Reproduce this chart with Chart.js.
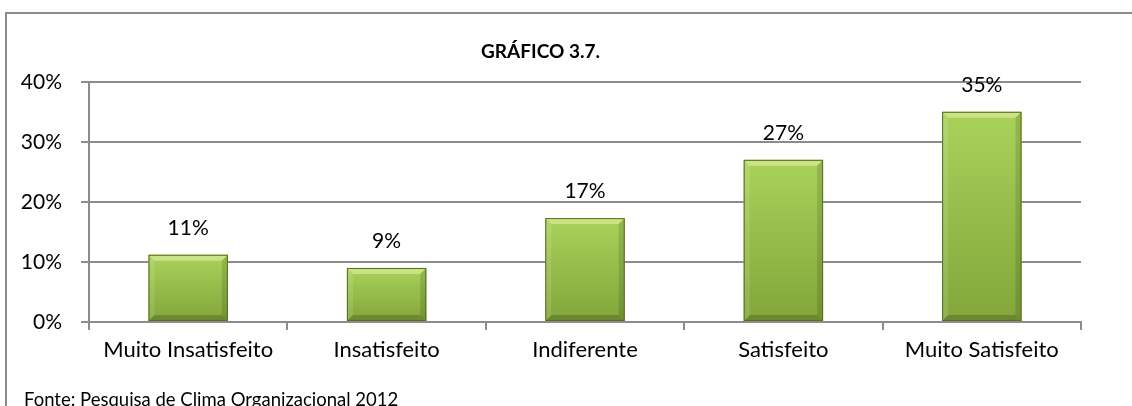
<!DOCTYPE html>
<html>
<head>
<meta charset="utf-8">
<script src="https://cdn.jsdelivr.net/npm/chart.js@4.4.0/dist/chart.umd.min.js"></script>
<style>
  html, body { margin: 0; padding: 0; background: #fff; overflow: hidden; }
  #wrap { position: relative; width: 1132px; height: 406px; overflow: hidden; }
  #moldura { position: absolute; left: 5px; top: 12px; width: 1300px; height: 600px; border: 2px solid #8c8c8c; }
  #grafico { position: absolute; left: 0; top: 0; }
  #fonte { position: absolute; left: 24px; top: 388px; font-family: Lato, sans-serif; font-size: 18.5px; color: #000; white-space: nowrap; }
</style>
</head>
<body>
<div id="wrap">
  <div id="moldura"></div>
  <canvas id="grafico" width="1132" height="406"></canvas>
  <div id="fonte">Fonte: Pesquisa de Clima Organizacional 2012</div>
</div>
<script>
// Dados do gráfico
const categorias = ['Muito Insatisfeito', 'Insatisfeito', 'Indiferente', 'Satisfeito', 'Muito Satisfeito'];
const percentuais = [11.2, 9.0, 17.3, 27.0, 35.0];
const rotulos = ['11%', '9%', '17%', '27%', '35%'];
const ticksY = [0, 10, 20, 30, 40];

const fonte = 'Lato, sans-serif';

// Desenha o efeito de relevo (bisel) nas barras e os rótulos de valor
const relevo = {
    id: 'relevo',
    afterDatasetsDraw(chart) {
        const ctx = chart.ctx;
        const meta = chart.getDatasetMeta(0);
        meta.data.forEach((barra, i) => {
            const l = barra.x - barra.width / 2;
            const r = barra.x + barra.width / 2;
            const t = barra.y;
            const b = barra.base;
            const s = 6;

            // face com degradê
            const g = ctx.createLinearGradient(0, t, 0, b);
            g.addColorStop(0, '#a9d25a');
            g.addColorStop(1, '#82a63a');
            ctx.fillStyle = g;
            ctx.fillRect(l, t, r - l, b - t);

            const poli = (pts, cor) => {
                ctx.beginPath();
                ctx.moveTo(pts[0][0], pts[0][1]);
                pts.slice(1).forEach(p => ctx.lineTo(p[0], p[1]));
                ctx.closePath();
                ctx.fillStyle = cor;
                ctx.fill();
            };
            poli([[l, t], [r, t], [r - s, t + s], [l + s, t + s]], 'rgba(255,255,200,0.4)');
            poli([[l, t], [l + s, t + s], [l + s, b - s], [l, b]], 'rgba(255,255,255,0.12)');
            poli([[r, t], [r, b], [r - s, b - s], [r - s, t + s]], 'rgba(0,0,0,0.12)');
            poli([[l, b], [r, b], [r - s, b - s], [l + s, b - s]], 'rgba(0,0,0,0.18)');

            ctx.strokeStyle = '#566f20';
            ctx.lineWidth = 1;
            ctx.strokeRect(l + 0.5, t + 0.5, r - l - 1, b - t - 1);

            // rótulo de valor
            ctx.fillStyle = '#000';
            ctx.font = '21px ' + fonte;
            ctx.textAlign = 'center';
            ctx.textBaseline = 'middle';
            ctx.fillText(rotulos[i], barra.x, t - 27);
        });
    }
};

const config = {
    type: 'bar',
    data: {
        labels: categorias,
        datasets: [{
            data: percentuais,
            backgroundColor: '#9bc53d',
            barPercentage: 0.4,
            categoryPercentage: 1.0
        }]
    },
    options: {
        responsive: false,
        animation: false,
        layout: { padding: { top: 40, right: 51, bottom: 43, left: 0 } },
        plugins: {
            legend: { display: false },
            tooltip: { enabled: false },
            title: {
                display: true,
                text: 'GRÁFICO 3.7.',
                color: '#000',
                font: { family: fonte, size: 19, weight: 'bold' },
                padding: { top: 0, bottom: 19 }
            }
        },
        scales: {
            x: {
                grid: { display: true, drawOnChartArea: false, drawTicks: true, tickLength: 8, color: '#8c8c8c', lineWidth: 2, offset: true },
                border: { display: true, color: '#8c8c8c', width: 2 },
                ticks: { color: '#000', font: { family: fonte, size: 22 }, padding: 7, maxRotation: 0 },
                afterFit: s => { s.height = 41; }
            },
            y: {
                min: 0,
                max: 40,
                afterBuildTicks: s => { s.ticks = ticksY.map(v => ({ value: v })); },
                grid: { color: '#8c8c8c', lineWidth: 2, tickLength: 8 },
                border: { display: true, color: '#8c8c8c', width: 2 },
                ticks: { color: '#000', font: { family: fonte, size: 21 }, padding: 19, callback: v => v + '%' },
                afterFit: s => { s.width = 89; }
            }
        }
    },
    plugins: [relevo]
};

window.onload = () => {
    new Chart(document.getElementById('grafico').getContext('2d'), config);
};
</script>
</body>
</html>
